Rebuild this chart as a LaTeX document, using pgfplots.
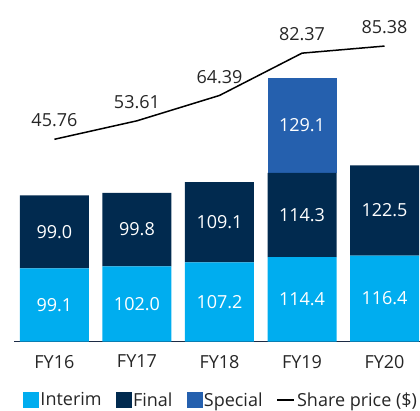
\documentclass[border=0pt]{standalone}
\usepackage{pgfplots}
\pgfplotsset{compat=1.18}
\usepackage{pgfplotstable}
\usepackage{fontspec}
\setmainfont{Open Sans}
\definecolor{cInterim}{HTML}{00ADEF}
\definecolor{cFinal}{HTML}{012A4F}
\definecolor{cSpecial}{HTML}{2560AE}
\definecolor{cAxis}{HTML}{1C2B45}
\pgfplotstableread{
x interim final special price
0 99.1 99.0 0 45.76
1 102.0 99.8 0 53.61
2 107.2 109.1 0 64.39
3 114.4 114.3 129.1 82.37
4 116.4 122.5 0 85.38
}\data
\pgfplotstableread{
x special
3 129.1
}\specdata
\newcommand{\fs}{\fontsize{18}{21}\selectfont}
\begin{document}
\begin{tikzpicture}
\begin{axis}[
  at={(14pt,68.5pt)}, anchor=south west,
  scale only axis, width=406pt, height=331pt,
  xmin=-0.49, xmax=4.43, ymin=0, ymax=449.1,
  ybar stacked, bar width=69pt,
  axis x line=bottom, axis y line=none,
  x axis line style={cAxis, line width=1pt, -},
  xtick={0,1,2,3,4}, xticklabels={FY16,FY17,FY18,FY19,FY20},
  major tick length=0pt,
  x tick label style={font=\fs, text=black!85, yshift=-10pt},
]
\addplot[fill=cInterim, draw=none] table[x=x, y=interim]{\data};
\addplot[fill=cFinal, draw=none] table[x=x, y=final]{\data};
\addplot[fill=cSpecial, draw=none] table[x=x, y=special]{\data};
\end{axis}
% segment labels, centred in each segment
\begin{axis}[
  at={(14pt,68.5pt)}, anchor=south west,
  scale only axis, width=406pt, height=331pt,
  xmin=-0.49, xmax=4.43, ymin=0, ymax=449.1,
  axis lines=none,
  /pgf/number format/assume math mode=true,
  point meta=explicit,
  nodes near coords={\pgfmathprintnumber[fixed,fixed zerofill,precision=1]{\pgfplotspointmeta}},
  every node near coord/.append style={font=\fs, text=white, anchor=center},
]
\addplot[draw=none, mark=none] table[x=x, y expr=\thisrow{interim}/2, meta=interim]{\data};
\addplot[draw=none, mark=none] table[x=x, y expr=\thisrow{interim}+\thisrow{final}/2, meta=final]{\data};
\addplot[draw=none, mark=none] table[x=x, y expr=114.4+114.3+\thisrow{special}/2, meta=special]{\specdata};
\end{axis}
\begin{axis}[
  at={(14pt,68.5pt)}, anchor=south west,
  scale only axis, width=406pt, height=331pt,
  xmin=-0.49, xmax=4.43, ymin=-40.2, ymax=100.5,
  axis lines=none,
  /pgf/number format/assume math mode=true,
  legend columns=4,
  legend style={at={(0.51,-0.177)}, anchor=center, draw=none, fill=none, inner sep=0pt,
    font=\fs, text=black!85,
    /tikz/every even column/.append style={column sep=12pt}},
]
\addlegendimage{legend image code/.code={\fill[cInterim] (0pt,-7.5pt) rectangle (15pt,7.5pt);}}
\addlegendimage{legend image code/.code={\fill[cFinal] (0pt,-7.5pt) rectangle (15pt,7.5pt);}}
\addlegendimage{legend image code/.code={\fill[cSpecial] (0pt,-7.5pt) rectangle (15pt,7.5pt);}}
\addplot[black, line width=1.5pt, mark=none,
  legend image code/.code={\draw[black, line width=1.5pt] (0pt,0pt) -- (17pt,0pt);},
  nodes near coords={\pgfmathprintnumber[fixed,fixed zerofill,precision=2]{\pgfplotspointmeta}},
  every node near coord/.append style={font=\fs, text=black!85, anchor=south, yshift=8pt}]
  table[x=x, y=price]{\data};
\legend{Interim,Final,Special,Share price (\$)}
\end{axis}
\pgfresetboundingbox
\useasboundingbox (0,0) rectangle (420pt,410pt);
\end{tikzpicture}
\end{document}
